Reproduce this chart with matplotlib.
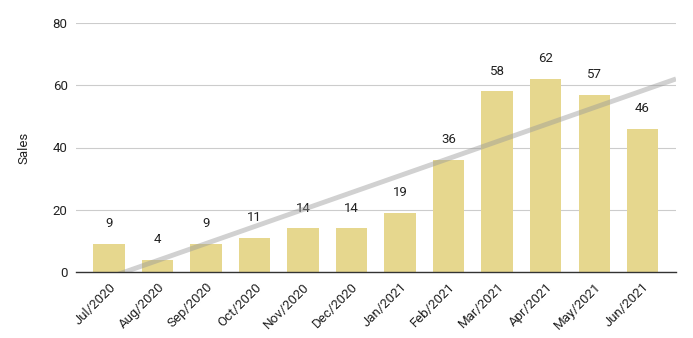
import matplotlib
matplotlib.use("Agg")
import matplotlib.pyplot as plt
import numpy as np

months = ["Jul/2020", "Aug/2020", "Sep/2020", "Oct/2020", "Nov/2020", "Dec/2020",
          "Jan/2021", "Feb/2021", "Mar/2021", "Apr/2021", "May/2021", "Jun/2021"]
sales = [9, 4, 9, 11, 14, 14, 19, 36, 58, 62, 57, 46]
yticks = [0, 20, 40, 60, 80]

plt.rcParams['font.family'] = ['Roboto', 'DejaVu Sans']

fig = plt.figure(figsize=(6.93, 3.38), dpi=100)
ax = fig.add_axes([76/693, 1-272/338, 600/693, 249/338])

x = np.arange(len(months))
ax.bar(x, sales, width=0.64, color="#e6d78e", zorder=2)
for xi, v in zip(x, sales):
    ax.annotate(str(v), (xi, v), xytext=(0, 10), textcoords="offset points",
                ha="center", va="bottom", fontsize=9.5, color="#222222")

xlim = (-0.68, 11.69)
coef = np.polyfit(x, sales, 1)
tx = np.array(xlim)
ax.plot(tx, np.polyval(coef, tx), color="#999999", alpha=0.45, lw=3.5,
        solid_capstyle="butt", zorder=3)

ax.set_xlim(*xlim)
ax.set_ylim(0, 80)
ax.set_yticks(yticks)
ax.set_yticklabels([str(t) for t in yticks], fontsize=9.5, color="#222222")
ax.set_xticks(x)
ax.set_xticklabels(months, rotation=45, ha="right", rotation_mode="anchor",
                   fontsize=9.5, color="#222222")
ax.tick_params(length=0, pad=6)
ax.grid(axis="y", color="#cccccc", lw=0.8, zorder=0)
for s in ["top", "right", "left"]:
    ax.spines[s].set_visible(False)
ax.spines["bottom"].set_color("#333333")
ax.spines["bottom"].set_linewidth(1)
ax.spines["bottom"].set_zorder(4)
ax.set_ylabel("Sales", fontsize=9.5, color="#222222", labelpad=16)

fig.savefig("out.png", dpi=100)
